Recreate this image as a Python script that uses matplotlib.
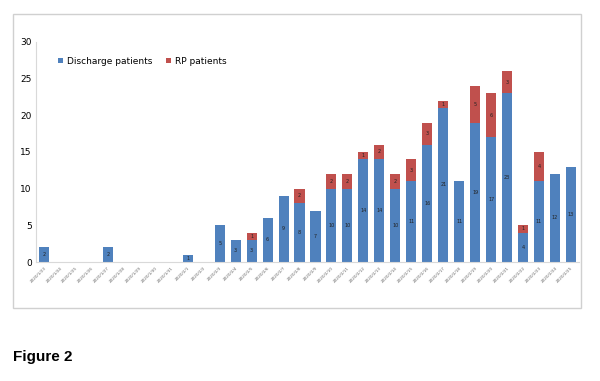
import numpy as np
import matplotlib.pyplot as plt
from matplotlib.patches import Rectangle

dates = ['2020/1/%d' % d for d in range(23, 32)] + ['2020/2/%d' % d for d in range(1, 26)]

discharge = [2, 0, 0, 0, 2, 0, 0, 0, 0, 1, 0, 5, 3, 3, 6, 9, 8, 7, 10, 10,
             14, 14, 10, 11, 16, 21, 11, 19, 17, 23, 4, 11, 12, 13]
rp = [0, 0, 0, 0, 0, 0, 0, 0, 0, 0, 0, 0, 0, 1, 0, 0, 2, 0, 2, 2,
      1, 2, 2, 3, 3, 1, 0, 5, 6, 3, 1, 4, 0, 0]

blue = '#4F81BD'
red = '#C0504D'

fig = plt.figure(figsize=(6.0, 3.81), dpi=100)
W, H = 600, 381

# outer chart frame
fig.patches.append(Rectangle((13 / W, 1 - 308 / H), (581 - 13) / W, (308 - 14) / H,
                             transform=fig.transFigure, fill=False,
                             edgecolor='#d0d0d0', linewidth=1.0))

ax = fig.add_axes([36 / W, 1 - 262 / H, (579 - 36) / W, (262 - 42) / H])

x = np.arange(len(dates))
ax.bar(x, discharge, width=0.63, color=blue, label='Discharge patients')
ax.bar(x, rp, width=0.63, bottom=discharge, color=red, label='RP patients')

for i in range(len(dates)):
    if discharge[i] > 0:
        ax.text(x[i], discharge[i] / 2, str(discharge[i]), ha='center', va='center',
                fontsize=3.5, color='#222222')
    if rp[i] > 0:
        ax.text(x[i], discharge[i] + rp[i] / 2, str(rp[i]), ha='center', va='center',
                fontsize=3.5, color='#222222')

ax.set_ylim(0, 30)
ax.set_yticks(range(0, 31, 5))
ax.set_xlim(-0.5, len(dates) - 0.5)
ax.set_xticks(x)
ax.set_xticklabels(dates, rotation=45, ha='right', fontsize=3, color='#666666',
                   rotation_mode='anchor')
ax.tick_params(axis='y', labelsize=6.5, length=0, pad=3)
ax.tick_params(axis='x', length=0, pad=3)
for s in ['top', 'right']:
    ax.spines[s].set_visible(False)
ax.spines['left'].set_color('#d9d9d9')
ax.spines['bottom'].set_color('#d9d9d9')

ax.legend(loc='upper left', bbox_to_anchor=(0.025, 0.97), ncol=2, frameon=False,
          fontsize=6.5, handlelength=0.6, handleheight=0.6, handletextpad=0.4,
          columnspacing=1.5)

fig.text(13 / W, 1 - 357 / H, 'Figure 2', fontsize=11, fontweight='bold',
         va='center', ha='left', family='Liberation Sans')

fig.savefig('out.png', dpi=100)
